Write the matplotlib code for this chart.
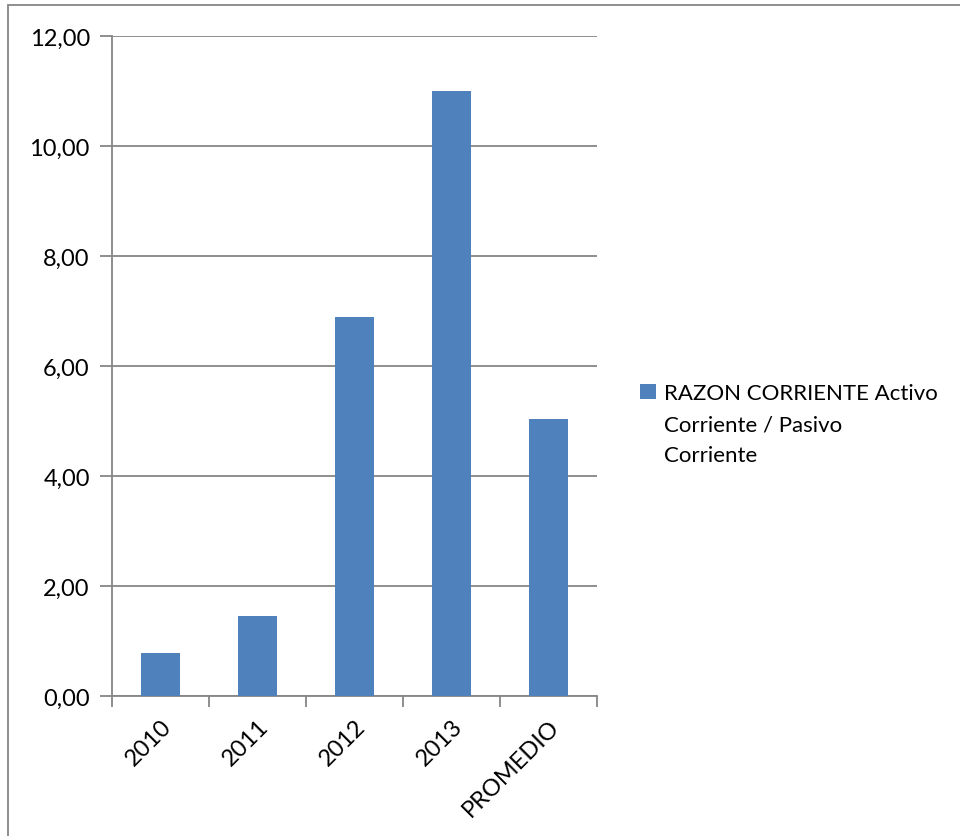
import matplotlib.pyplot as plt
from matplotlib.container import BarContainer
from matplotlib.patches import Rectangle
from matplotlib.legend_handler import HandlerPatch
from matplotlib.ticker import FuncFormatter

categories = ["2010", "2011", "2012", "2013", "PROMEDIO"]
razon_corriente = [0.78, 1.45, 6.89, 11.00, 5.03]
series_label = "RAZON CORRIENTE Activo\nCorriente / Pasivo\nCorriente"

BAR_COLOR = "#4F81BD"
GRID_COLOR = "#868686"
FONT_SIZE = 17
LEGEND_SIZE = 16
LINE_SPACING = 1.7

plt.rcParams["font.family"] = ["Lato", "DejaVu Sans"]

fig = plt.figure(figsize=(9.6, 8.37), dpi=100)
W, H = 960, 837
ax = fig.add_axes([112 / W, 1 - 697 / H, 485 / W, 660 / H])

# outer chart border
fig.patches.append(Rectangle((8 / W, -0.1), 1.2, 1 - 6 / H + 0.1,
                             transform=fig.transFigure, fill=False,
                             edgecolor=GRID_COLOR, linewidth=1.3))

x = range(len(categories))
ax.bar(x, razon_corriente, width=0.4, color=BAR_COLOR, zorder=3,
       label=series_label)

ax.set_xlim(-0.5, len(categories) - 0.5)
ax.set_ylim(0, 12)
ax.set_yticks(range(0, 13, 2))
ax.yaxis.set_major_formatter(FuncFormatter(lambda v, _: f"{v:.2f}".replace(".", ",")))
ax.grid(axis="y", color=GRID_COLOR, linewidth=1.3, zorder=0)

# category ticks sit on the boundaries between bars
ax.set_xticks([i - 0.5 for i in range(len(categories) + 1)])
ax.set_xticklabels([])
ax.set_xticks(list(x), minor=True)
ax.set_xticklabels(categories, minor=True, rotation=45, ha="right",
                   va="top", rotation_mode="anchor", fontsize=FONT_SIZE)
ax.tick_params(axis="x", which="minor", length=0, pad=14)
ax.tick_params(axis="x", which="major", length=8, width=1.3,
               color=GRID_COLOR, direction="out")
ax.tick_params(axis="y", length=9, width=1.3, color=GRID_COLOR,
               labelsize=FONT_SIZE, pad=7)

for side in ["top", "right"]:
    ax.spines[side].set_visible(False)
for side in ["left", "bottom"]:
    ax.spines[side].set_color(GRID_COLOR)
    ax.spines[side].set_linewidth(1.3)


def top_line_square(legend, orig_handle, xdescent, ydescent, width, height, fontsize):
    # keep the swatch beside the first line of the wrapped label
    shift = fontsize * LINE_SPACING * 0.87
    return Rectangle((-xdescent, -ydescent + shift), width, height)


leg = fig.legend(loc="upper left", bbox_to_anchor=(620 / W, 1 - 364 / H),
                 frameon=False, fontsize=LEGEND_SIZE, handlelength=0.7,
                 handleheight=0.7, handletextpad=0.4,
                 handler_map={BarContainer: HandlerPatch(
                     patch_func=top_line_square,
                     update_func=lambda h, o: h.update_from(o.patches[0]))})
for t in leg.get_texts():
    t.set_linespacing(LINE_SPACING)

fig.savefig("out.png", dpi=100)
